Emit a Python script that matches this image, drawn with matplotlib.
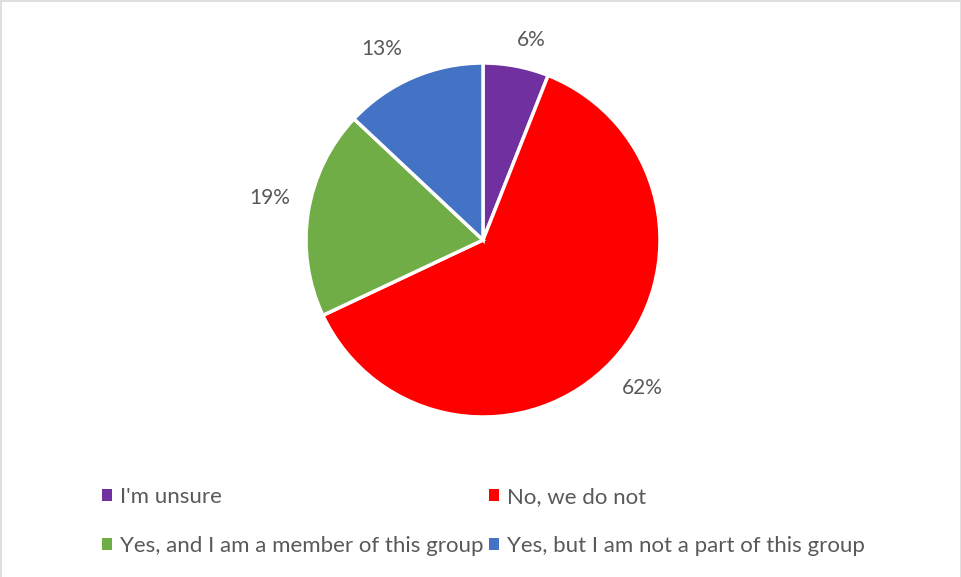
import matplotlib
matplotlib.use("Agg")
import matplotlib.pyplot as plt
import numpy as np
from matplotlib.patches import Rectangle, Patch

plt.rcParams['font.family'] = ['Lato', 'DejaVu Sans']

# Data
labels = ["I'm unsure", "No, we do not",
          "Yes, and I am a member of this group", "Yes, but I am not a part of this group"]
shares = [6, 62, 19, 13]
colors = ['#7030A0', '#FF0000', '#70AD47', '#4472C4']

# label placement tweaks (distance in radii, angle nudge in degrees)
label_dist = [1.16, 1.23, 1.23, 1.22]
label_nudge = [-2.7, 0.4, -2.0, 4.6]

TEXT_COLOR = '#595959'

fig = plt.figure(figsize=(9.62, 5.77), dpi=100)

# pie centred at (483, 240) px with radius ~177 px
ax = fig.add_axes([306 / 962, 160 / 577, 354 / 962, 354 / 577])
wedges, _, autotexts = ax.pie(shares, colors=colors, startangle=90, counterclock=False,
                              autopct='%1.0f%%', pctdistance=1.2,
                              wedgeprops=dict(edgecolor='white', linewidth=2.5))
for w, t, d, n in zip(wedges, autotexts, label_dist, label_nudge):
    ang = np.deg2rad((w.theta1 + w.theta2) / 2 + n)
    t.set_position((d * np.cos(ang), d * np.sin(ang)))
    t.set_color(TEXT_COLOR)
    t.set_fontsize(15)
ax.set_xlim(-1, 1)
ax.set_ylim(-1, 1)
ax.set_aspect('equal')

# legend, filled column-wise
order = [0, 2, 1, 3]
handles = [Patch(facecolor=colors[i]) for i in order]
leg = fig.legend(handles, [labels[i] for i in order], ncol=2, frameon=False,
                 loc='upper left', bbox_to_anchor=(82 / 962, 1 - 467 / 577),
                 handlelength=0.45, handleheight=0.45, handletextpad=0.35,
                 columnspacing=0.25, labelspacing=1.3, fontsize=16)
for t in leg.get_texts():
    t.set_color(TEXT_COLOR)

# chart border
fig.patches.append(Rectangle((0.5 / 962, -0.01), 1 - 1.5 / 962, 1.0 - 0.5 / 577 + 0.01,
                             transform=fig.transFigure, fill=False,
                             edgecolor='#D9D9D9', linewidth=1.2))

fig.savefig('out.png', dpi=100)
